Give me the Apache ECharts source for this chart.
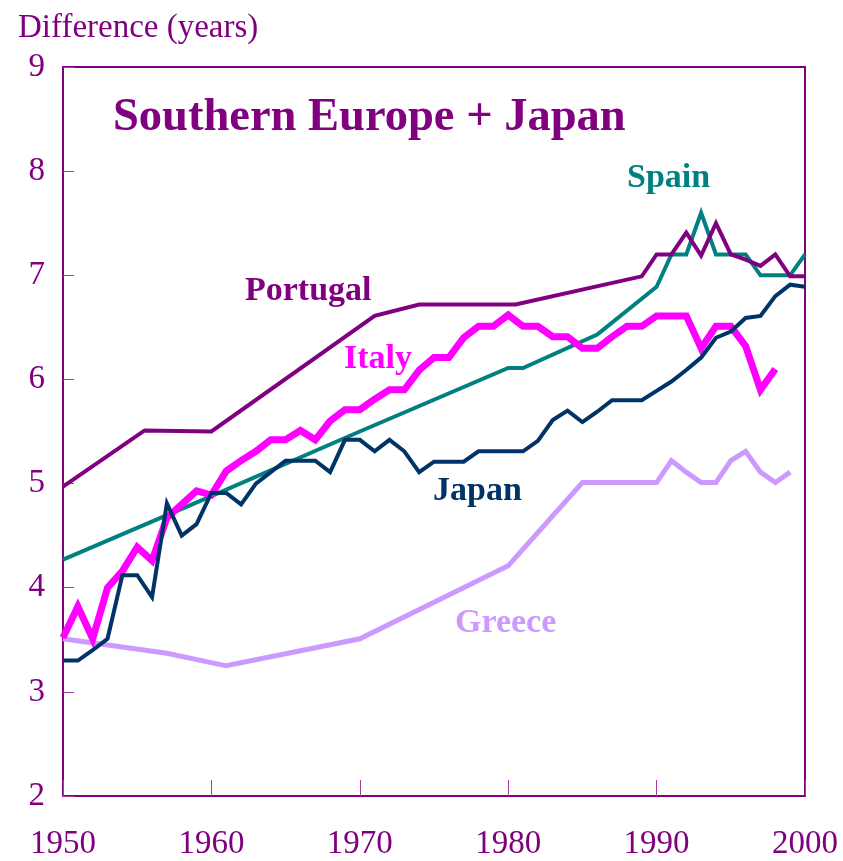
<!DOCTYPE html>
<html>
<head>
<meta charset="utf-8">
<script src="https://cdn.jsdelivr.net/npm/echarts@6/dist/echarts.min.js"></script>
<style>
  html, body { margin: 0; padding: 0; background: #fff; }
  #chart { width: 843px; height: 861px; }
</style>
</head>
<body>
<div id="chart"></div>
<script>
// data: [year, difference in years]
const portugal = [[1950, 4.97], [1955.5, 5.51], [1960, 5.50], [1971, 6.61], [1974, 6.72], [1980.5, 6.72],
  [1989, 6.99], [1990, 7.20], [1991, 7.20], [1992, 7.41], [1993, 7.19], [1994, 7.50], [1995, 7.20],
  [1996, 7.15], [1997, 7.09], [1998, 7.20], [1999, 6.99], [2000, 6.99]];
const spain = [[1950, 4.27], [1960, 4.88], [1970, 5.50], [1980, 6.11], [1981, 6.11], [1986, 6.43],
  [1990, 6.89], [1991, 7.20], [1992, 7.20], [1993, 7.60], [1994, 7.20], [1995, 7.20], [1996, 7.20],
  [1997, 7.00], [1998, 7.00], [1999, 7.00], [2000, 7.20]];
const italyYears = [];
for (let y = 1950; y <= 1998; y++) italyYears.push(y);
const italyValues = [3.52, 3.82, 3.51, 4.00, 4.16, 4.39, 4.26, 4.67, 4.80, 4.93,
  4.89, 5.12, 5.22, 5.31, 5.42, 5.42, 5.51, 5.42, 5.60, 5.71,
  5.71, 5.81, 5.90, 5.90, 6.09, 6.21, 6.21, 6.40, 6.51, 6.51,
  6.62, 6.51, 6.51, 6.41, 6.41, 6.30, 6.30, 6.41, 6.51, 6.51,
  6.61, 6.61, 6.61, 6.30, 6.51, 6.51, 6.32, 5.90, 6.10];
const japanYears = [];
for (let y = 1950; y <= 2000; y++) japanYears.push(y);
const japanValues = [3.30, 3.30, 3.40, 3.51, 4.12, 4.12, 3.91, 4.81, 4.50, 4.61,
  4.91, 4.91, 4.80, 5.00, 5.11, 5.22, 5.22, 5.22, 5.11, 5.42,
  5.42, 5.31, 5.42, 5.31, 5.11, 5.21, 5.21, 5.21, 5.31, 5.31,
  5.31, 5.31, 5.41, 5.61, 5.70, 5.59, 5.69, 5.80, 5.80, 5.80,
  5.89, 5.98, 6.09, 6.21, 6.40, 6.46, 6.59, 6.61, 6.80, 6.91, 6.89];
const greece = [[1950, 3.51], [1957, 3.37], [1961, 3.25], [1970, 3.51], [1980, 4.21], [1985, 5.01],
  [1990, 5.01], [1991, 5.22], [1992, 5.11], [1993, 5.01], [1994, 5.01], [1995, 5.22], [1996, 5.31],
  [1997, 5.11], [1998, 5.01], [1999, 5.11]];

const purple = '#800080';
const serif = '"Liberation Serif", "Times New Roman", serif';

const chart = echarts.init(document.getElementById('chart'));

function line(name, data, color, width) {
  return {
    name: name,
    type: 'line',
    data: data,
    symbol: 'none',
    animation: false,
    lineStyle: { color: color, width: width, join: 'miter' },
    z: 3
  };
}

// text placed by its left edge and vertical middle
function label(text, x, y, color, font) {
  return { type: 'text', x: x, y: y, style: { text: text, fill: color, font: font, align: 'left', verticalAlign: 'middle' } };
}

chart.setOption({
  backgroundColor: '#fff',
  grid: { left: 63, right: 38, top: 67, bottom: 64, show: true, borderColor: purple, borderWidth: 2 },
  xAxis: {
    type: 'value', min: 1950, max: 2000, interval: 10,
    axisLine: { show: true, lineStyle: { color: purple, width: 2 } },
    axisTick: { show: true, inside: true, length: 16, lineStyle: { color: '#a040a0', width: 1 } },
    axisLabel: { color: purple, fontFamily: serif, fontSize: 33, margin: 32, formatter: v => String(v) },
    splitLine: { show: false }
  },
  yAxis: {
    type: 'value', min: 2, max: 9, interval: 1,
    axisLine: { show: true, lineStyle: { color: purple, width: 2 } },
    axisTick: { show: true, inside: true, length: 11, lineStyle: { color: '#a040a0', width: 1 } },
    axisLabel: { color: purple, fontFamily: serif, fontSize: 33, margin: 18 },
    splitLine: { show: false }
  },
  graphic: [
    label('Difference (years)', 18, 28, purple, '33px ' + serif),
    label('Southern Europe + Japan', 113, 118, purple, 'bold 46.5px ' + serif),
    label('Portugal', 245, 291, purple, 'bold 34px ' + serif),
    label('Spain', 627, 178, '#008080', 'bold 34px ' + serif),
    label('Italy', 344, 359, '#ff00ff', 'bold 34px ' + serif),
    label('Japan', 433, 491, '#003366', 'bold 34px ' + serif),
    label('Greece', 455, 623, '#cc99ff', 'bold 34px ' + serif)
  ],
  series: [
    line('Greece', greece, '#cc99ff', 5),
    line('Spain', spain, '#008080', 4),
    line('Portugal', portugal, purple, 4),
    line('Italy', italyYears.map((y, i) => [y, italyValues[i]]), '#ff00ff', 7),
    line('Japan', japanYears.map((y, i) => [y, japanValues[i]]), '#003366', 4)
  ]
});
</script>
</body>
</html>
